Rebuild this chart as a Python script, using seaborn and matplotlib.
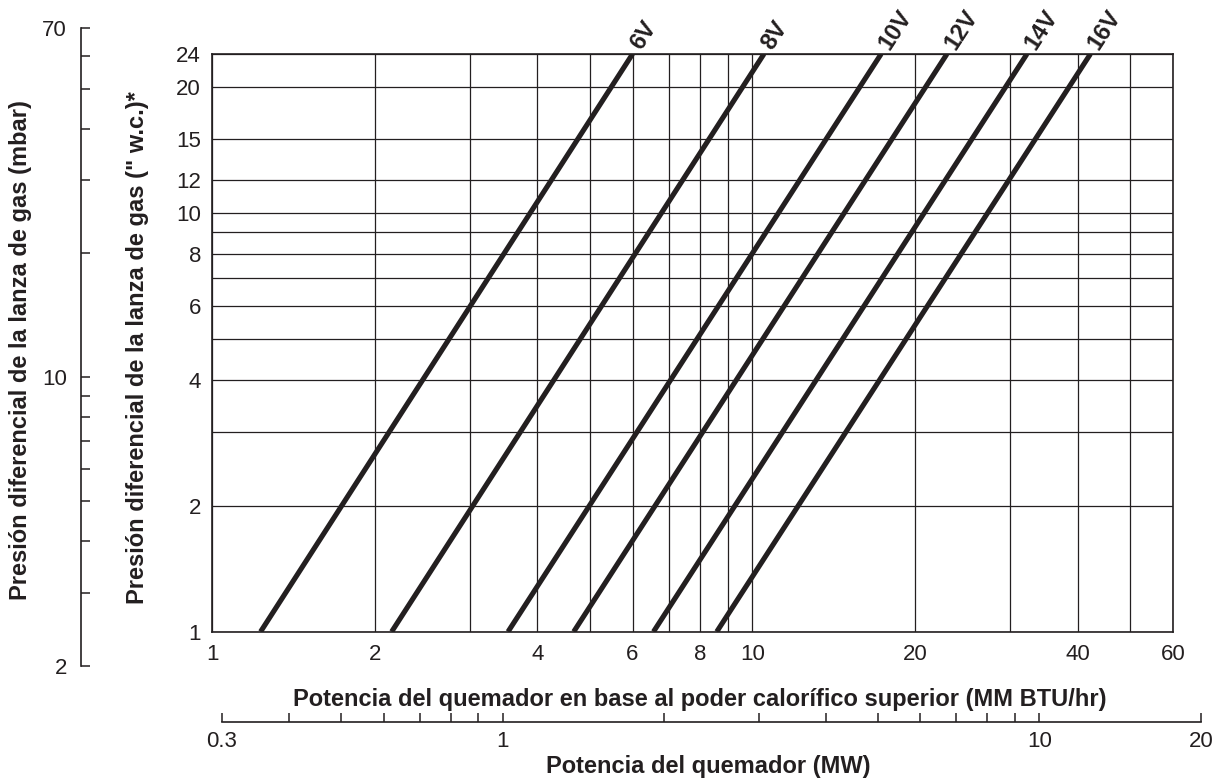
import pandas as pd
import seaborn as sns
import matplotlib.pyplot as plt
from matplotlib.ticker import NullLocator

series = ["6V", "8V", "10V", "12V", "14V", "16V"]
potencia_1 = [1.23, 2.15, 3.53, 4.67, 6.56, 8.59]
potencia_24 = [6.0, 10.5, 17.3, 22.9, 32.2, 42.2]
presion_ext = [1, 24]

# escalas
x_grid = [1, 2, 3, 4, 5, 6, 7, 8, 9, 10, 20, 30, 40, 50, 60]
x_labels = [1, 2, 4, 6, 8, 10, 20, 40, 60]
y_grid = [1, 2, 3, 4, 5, 6, 7, 8, 9, 10, 12, 15, 20, 24]
y_labels = [1, 2, 4, 6, 8, 10, 12, 15, 20, 24]
mbar_ticks = [2, 3, 4, 5, 6, 7, 8, 9, 10, 20, 30, 40, 50, 60, 70]
mbar_labels = [2, 10, 70]
mw_ticks = [0.3, 0.4, 0.5, 0.6, 0.7, 0.8, 0.9, 1, 2, 3, 4, 5, 6, 7, 8, 9, 10, 20]
mw_labels = [0.3, 1, 10, 20]

rows = []
for s, a, b in zip(series, potencia_1, potencia_24):
    rows.append({"serie": s, "potencia": a, "presion": presion_ext[0]})
    rows.append({"serie": s, "potencia": b, "presion": presion_ext[1]})
df = pd.DataFrame(rows)

sns.set_style("white")
plt.rcParams['font.family'] = ['Liberation Sans', 'DejaVu Sans']
ink = "#231f20"
fs_tick = 16
fs_lab = 17

W, H = 1221, 782
fig = plt.figure(figsize=(W / 100, H / 100), dpi=100)

# eje principal
ax = fig.add_axes([212 / W, 1 - 631.7 / H, (1173 - 212) / W, (631.7 - 54) / H])
ax.set_xscale("log")
ax.set_yscale("log")
sns.lineplot(data=df, x="potencia", y="presion", hue="serie", palette=[ink] * len(series),
             linewidth=3.7, legend=False, ax=ax, solid_capstyle="butt")
ax.set_xlim(1, 60)
ax.set_ylim(1, 24)
ax.set_xticks(x_grid)
ax.set_xticklabels([str(v) if v in x_labels else "" for v in x_grid])
ax.set_yticks(y_grid)
ax.set_yticklabels([str(v) if v in y_labels else "" for v in y_grid])
ax.xaxis.set_minor_locator(NullLocator())
ax.yaxis.set_minor_locator(NullLocator())
ax.tick_params(length=0, labelsize=fs_tick, labelcolor=ink)
ax.tick_params(axis="x", pad=9)
ax.tick_params(axis="y", pad=8)
ax.grid(True, color=ink, linewidth=0.9)
for sp in ax.spines.values():
    sp.set_color(ink)
    sp.set_linewidth(1.2)
ax.set_xlabel("Potencia del quemador en base al poder calorífico superior (MM BTU/hr)",
              fontsize=fs_lab, fontweight="bold", color=ink)
ax.xaxis.set_label_coords(700 / W, 1 - 688 / H, transform=fig.transFigure)
ax.set_ylabel("Presión diferencial de la lanza de gas (\" w.c.)*",
              fontsize=fs_lab, fontweight="bold", color=ink)
ax.yaxis.set_label_coords(149 / W, 1 - 348 / H, transform=fig.transFigure)

for s, b in zip(series, potencia_24):
    ax.annotate(s, xy=(b, presion_ext[1]), xytext=(2, 4.5), textcoords="offset points",
                rotation=57, rotation_mode="anchor", ha="left", va="center",
                fontsize=fs_lab, fontweight="bold", color=ink, annotation_clip=False)

# eje mbar
axm = fig.add_axes([81 / W, 1 - 665.7 / H, 0.0001, (665.7 - 28.3) / H])
axm.set_yscale("log")
axm.set_ylim(2, 70)
axm.patch.set_visible(False)
for k in ["top", "right", "bottom"]:
    axm.spines[k].set_visible(False)
axm.spines["left"].set_color(ink)
axm.spines["left"].set_linewidth(1.2)
axm.set_xticks([])
axm.set_yticks(mbar_ticks)
axm.set_yticklabels([str(v) if v in mbar_labels else "" for v in mbar_ticks])
axm.yaxis.set_minor_locator(NullLocator())
axm.tick_params(axis="y", left=True, direction="in", length=6.5, width=1.1, color=ink,
                labelsize=fs_tick, labelcolor=ink, pad=10)
fig.text(21 / W, 1 - 350 / H, "Presión diferencial de la lanza de gas (mbar)",
         rotation=90, ha="center", va="center", fontsize=fs_lab, fontweight="bold", color=ink)

# eje MW
axw = fig.add_axes([222 / W, 1 - 721.7 / H, (1201 - 222) / W, 0.0001])
axw.set_xscale("log")
axw.set_xlim(0.3, 20)
axw.patch.set_visible(False)
for k in ["top", "right", "left"]:
    axw.spines[k].set_visible(False)
axw.spines["bottom"].set_color(ink)
axw.spines["bottom"].set_linewidth(1.2)
axw.set_yticks([])
axw.set_xticks(mw_ticks)
axw.set_xticklabels([str(v) if v in mw_labels else "" for v in mw_ticks])
axw.xaxis.set_minor_locator(NullLocator())
axw.tick_params(axis="x", bottom=True, direction="in", length=6.2, width=1.1, color=ink,
                labelsize=fs_tick, labelcolor=ink, pad=7)
fig.text(708 / W, 1 - 766 / H, "Potencia del quemador (MW)",
         ha="center", va="center", fontsize=fs_lab, fontweight="bold", color=ink)

fig.savefig("out.png", dpi=100)
